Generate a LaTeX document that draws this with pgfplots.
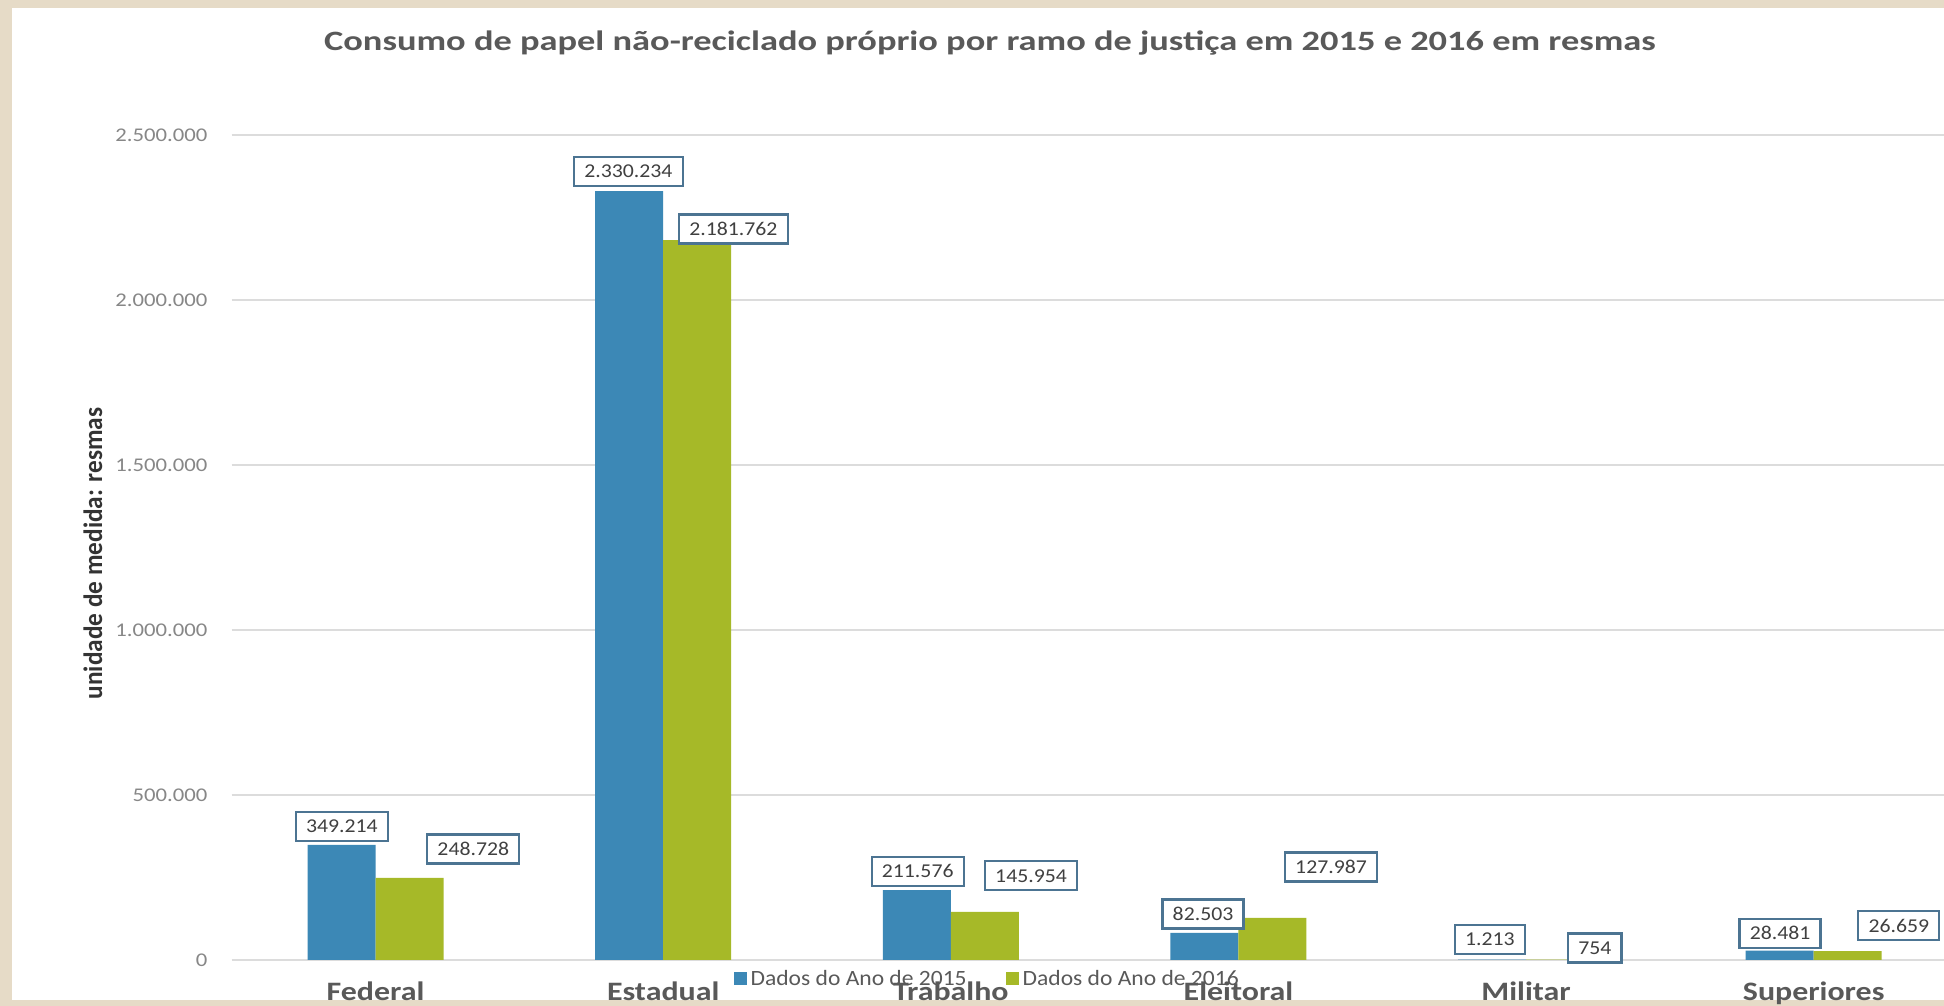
\documentclass[border=0pt]{standalone}
\usepackage{fontspec}
\setmainfont[FakeStretch=1.11]{Carlito}
\newfontfamily\titlefont[FakeStretch=1.3]{Carlito}
\newfontfamily\catfont[FakeStretch=1.2]{Carlito}
\newfontfamily\tickfont[FakeStretch=1.17]{Carlito}
\newfontfamily\legfont[FakeStretch=1.08]{Carlito}
\newfontfamily\ylabfont[FakeStretch=0.95]{Carlito}
\usepackage{pgfplots}
\pgfplotsset{compat=1.18}
\definecolor{bblue}{RGB}{60,136,182}
\definecolor{bgreen}{RGB}{166,185,40}
\definecolor{paper}{RGB}{230,219,199}
\definecolor{boxc}{RGB}{76,116,146}
\definecolor{txt}{RGB}{89,89,89}
\definecolor{ticktxt}{RGB}{135,135,135}
\definecolor{gridc}{RGB}{220,220,220}
\tikzset{lbl/.style={draw=boxc, line width=1.1pt, fill=white, font=\fontsize{9.8}{11}\selectfont, text=black!75, inner xsep=5.1pt, inner ysep=4.1pt, text height=6.3pt, text depth=0pt}}
\begin{document}
\begin{tikzpicture}
\fill[paper] (0,0) rectangle (972pt,503pt);
\fill[white] (6pt,3pt) rectangle (972pt,499pt);
\useasboundingbox (0,0) rectangle (972pt,503pt);
\node[text=txt, anchor=base, font=\titlefont\bfseries\fontsize{14}{16}\selectfont] at (495pt,477.6pt) {Consumo de papel não-reciclado próprio por ramo de justiça em 2015 e 2016 em resmas};
\node[rotate=90, text=black!80, font=\ylabfont\bfseries\fontsize{13.3}{15}\selectfont] at (46.5pt,226.3pt) {unidade de medida: resmas};
\begin{axis}[
  at={(115.85pt,23pt)}, anchor=south west,
  width=856.15pt, height=412.5pt, scale only axis,
  xmin=-0.5, xmax=5.453, ymin=0, ymax=2500000,
  axis line style={draw=none},
  major tick length=0pt,
  scaled y ticks=false,
  ytick={0,500000,1000000,1500000,2000000,2500000},
  yticklabels={0,500.000,1.000.000,1.500.000,2.000.000,2.500.000},
  yticklabel style={anchor=east, inner sep=0pt, xshift=-12pt, text=ticktxt, font=\tickfont\fontsize{9.7}{11}\selectfont},
  ymajorgrids, grid style={gridc, line width=0.8pt},
  xtick={0,1,2,3,4,5},
  xticklabels={Federal,Estadual,Trabalho,Eleitoral,Militar,Superiores},
  xticklabel style={anchor=base, inner sep=0pt, yshift=-20.3pt, text=txt, font=\catfont\bfseries\fontsize{13.3}{15}\selectfont},
  ybar=0pt, bar width=0.2364,
  clip=false,
  legend columns=2,
  legend style={at={(0.2929,-0.023)}, anchor=west, draw=none, fill=none, inner sep=0pt,
    font=\legfont\fontsize{10.9}{12}\selectfont, text=txt,
    nodes={inner sep=0pt},
    /tikz/every odd column/.append style={column sep=2pt},
    /tikz/every even column/.append style={column sep=19.5pt}},
]
\addplot[fill=bblue, draw=none, legend image code/.code={\fill[bblue] (0pt,-3.25pt) rectangle (6.5pt,3.25pt);}]
  coordinates {(0,349214) (1,2330234) (2,211576) (3,82503) (4,1213) (5,28481)};
\addplot[fill=bgreen, draw=none, legend image code/.code={\fill[bgreen] (0pt,-3.25pt) rectangle (6.5pt,3.25pt);}]
  coordinates {(0,248728) (1,2181762) (2,145954) (3,127987) (4,754) (5,26659)};
\legend{Dados do Ano de 2015, Dados do Ano de 2016}
% data labels, 2015
\node[lbl] at (axis cs:-0.117,404500) {349.214};
\node[lbl] at (axis cs:0.879,2389200) {2.330.234};
\node[lbl] at (axis cs:1.885,268200) {211.576};
\node[lbl] at (axis cs:2.877,139400) {82.503};
\node[lbl] at (axis cs:3.874,62100) {1.213};
\node[lbl] at (axis cs:4.883,80300) {28.481};
% data labels, 2016
\node[lbl] at (axis cs:0.340,336300) {248.728};
\node[lbl] at (axis cs:1.244,2214900) {2.181.762};
\node[lbl] at (axis cs:2.279,255100) {145.954};
\node[lbl] at (axis cs:3.322,281800) {127.987};
\node[lbl] at (axis cs:4.239,36400) {754};
\node[lbl] at (axis cs:5.296,103900) {26.659};
\end{axis}
\end{tikzpicture}
\end{document}
